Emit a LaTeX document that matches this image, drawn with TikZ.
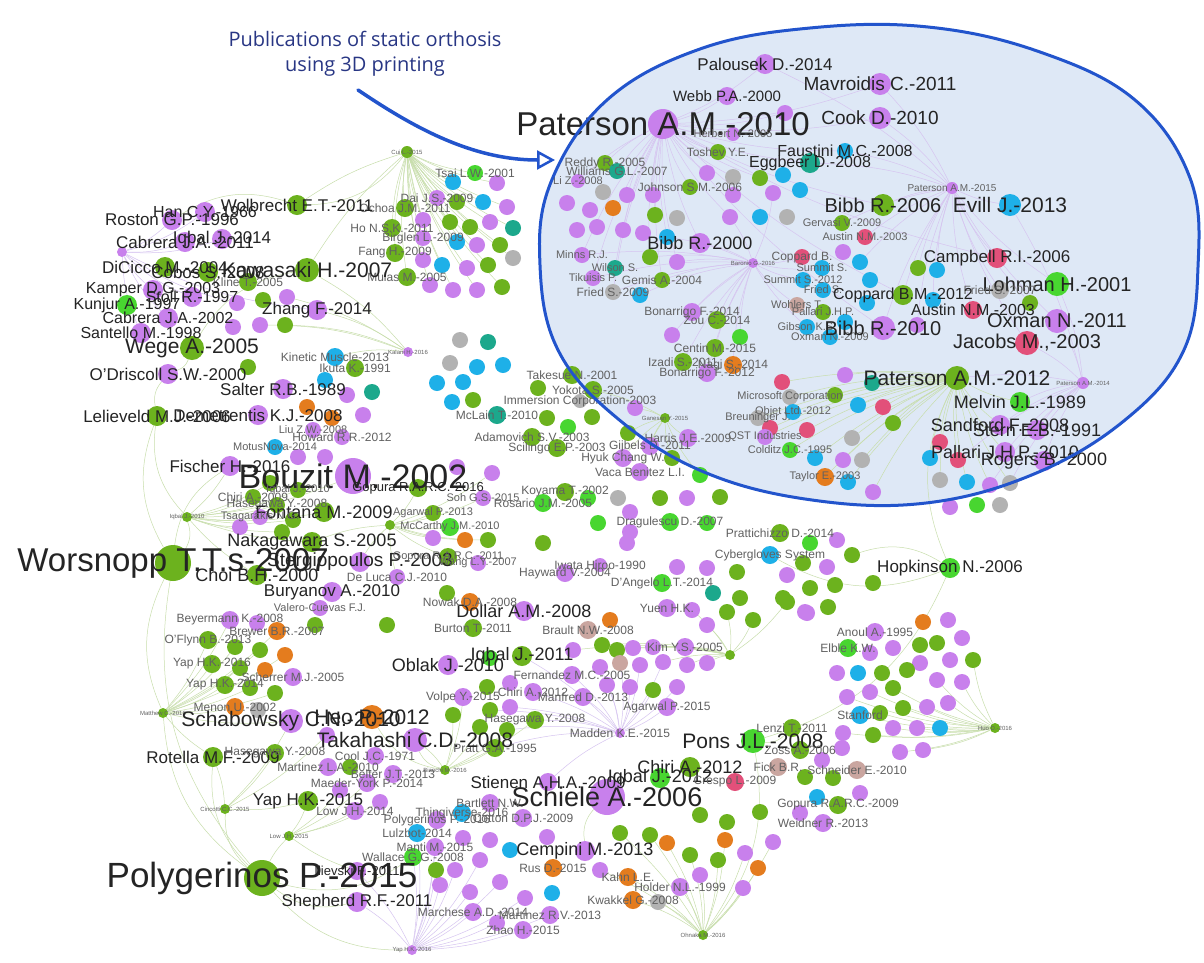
\documentclass[tikz,border=0pt]{standalone}
\usepackage{fontspec}
\usepackage{etoolbox}
\setmainfont{Liberation Sans}
\newfontfamily\annfont{Open Sans}
\usetikzlibrary{arrows.meta}
\pgfdeclarelayer{back}\pgfdeclarelayer{edges}\pgfdeclarelayer{top}
\pgfsetlayers{back,edges,main,top}
\definecolor{pu}{RGB}{200,128,236}
\definecolor{gr}{RGB}{108,178,30}
\definecolor{bg}{RGB}{72,214,48}
\definecolor{te}{RGB}{28,168,140}
\definecolor{bl}{RGB}{30,176,232}
\definecolor{pk}{RGB}{226,80,122}
\definecolor{or}{RGB}{228,124,30}
\definecolor{gy}{RGB}{178,178,178}
\definecolor{br}{RGB}{202,166,160}
\definecolor{edgeg}{RGB}{200,222,172}
\definecolor{edgep}{RGB}{214,196,240}
\definecolor{ellfill}{RGB}{222,232,246}
\definecolor{elldraw}{RGB}{34,84,204}
\definecolor{ann}{RGB}{40,54,132}
\tikzset{
  dot/.style={circle,inner sep=0pt,draw=none},
  lab/.style={inner sep=0pt,anchor=center},
  eg/.style={draw=edgeg,line width=0.5pt},
  ep/.style={draw=edgep,line width=0.5pt},
}
\newcommand\alllabels{}
\newcommand\pubnode[3]{%
  \ifdim #2pt<13pt \def\pubcol{black!62}\else\def\pubcol{black!86}\fi
  \node[lab,text=\pubcol,font=\fontsize{#2}{#2}\selectfont] at (#1) {#3};}
\newcommand\pub[7]{%
  \node[dot,fill=#5,minimum size={2*#4pt}] (#1) at (#2,#3) {};%
  \gappto\alllabels{\pubnode{#1}{#6}{#7}}}
\newcommand\dn[4]{\node[dot,fill=#4,minimum size=16pt] (#1) at (#2,#3) {};}
\newcommand\ellpath{plot[smooth cycle,tension=0.65] coordinates {(540,265) (551,182) (607,100) (700,49) (810,28) (928,27) (1040,52) (1135,100) (1190,178) (1198,267) (1183,352) (1125,420) (1034,474) (926,503) (812,500) (704,472) (617,418) (558,350)}}
\begin{document}
\begin{tikzpicture}[x=1pt,y=-1pt]
\useasboundingbox (0,0) rectangle (1204,962);
\begin{pgfonlayer}{back}
\fill[white] (0,0) rectangle (1204,962);
\fill[ellfill] \ellpath;
\end{pgfonlayer}
% ---------- ellipse upper
\pub{palo}{765}{64}{10}{pu}{17}{Palousek D.-2014}
\pub{mavr}{880}{84}{11}{pu}{19}{Mavroidis C.-2011}
\pub{webb}{727}{96}{9}{pu}{15}{Webb P.A.-2000}
\dn{e1}{785}{113}{pu}
\pub{cook}{880}{118}{11}{pu}{19}{Cook D.-2010}
\pub{pat10}{663}{124}{15}{pu}{33}{Paterson A.M.-2010}
\pub{herb}{733}{134}{7}{pu}{11}{Herbert N.-2005}
\pub{tosh}{718}{152}{8}{gr}{12}{Toshev Y.E.}
\pub{faus}{845}{151}{8}{bl}{16}{Faustini M.C.-2008}
\pub{eggb}{810}{163}{10}{te}{16}{Eggbeer D.-2008}
\pub{redd}{605}{163}{8}{gr}{12}{Reddy R.-2005}
\pub{will}{617}{171}{8}{te}{12}{Williams G.L.-2007}
\pub{liz}{578}{181}{7}{pu}{11}{Li Z.-2008}
\dn{e2}{707}{173}{pu}\dn{e3}{733}{177}{gy}\dn{e4}{760}{178}{gr}\dn{e5}{783}{175}{bl}
\dn{e6}{603}{192}{gy}\dn{e7}{627}{195}{pu}\dn{e8}{653}{195}{pu}
\pub{john}{690}{187}{8}{gr}{12}{Johnson S.M.-2006}
\dn{e9}{733}{195}{pu}\dn{e10}{773}{193}{pu}\dn{e11}{800}{190}{bl}
\dn{e12}{567}{203}{pu}\dn{e13}{590}{210}{pu}\dn{e14}{613}{208}{or}\dn{e15}{655}{215}{gr}\dn{e16}{677}{218}{gy}\dn{e17}{730}{217}{pu}\dn{e18}{760}{217}{bl}\dn{e19}{787}{217}{gy}
\dn{e20}{577}{230}{pu}\dn{e21}{597}{227}{pu}\dn{e22}{623}{230}{pu}\dn{e23}{643}{233}{pu}\dn{e24}{667}{237}{bl}
\pub{bibb00}{700}{243}{10}{pu}{18}{Bibb R.-2000}
\pub{minns}{582}{255}{8}{pu}{11}{Minns R.J.}
\pub{wils}{615}{268}{8}{te}{11}{Wilson S.}
\pub{tiku}{593}{278}{8}{pu}{11}{Tikuisis P.}
\dn{e25}{650}{257}{gr}\dn{e26}{677}{262}{pu}
\pub{gemi}{662}{280}{8}{gr}{12}{Gemis A.-2004}
\pub{frie09}{613}{292}{8}{gy}{12}{Fried S.-2009}
\dn{e27}{640}{295}{bl}
\pub{baron}{753}{263}{5}{pu}{6}{Baronio G.-2016}
\pub{bona14}{692}{312}{9}{pu}{12}{Bonarrigo F.-2014}
\pub{zou}{717}{320}{9}{gr}{12}{Zou C.-2014}
\dn{e28}{672}{335}{pu}\dn{e29}{740}{337}{bg}
\pub{cent}{715}{348}{9}{gr}{12}{Centin M.-2015}
\pub{izad}{683}{362}{9}{gr}{12}{Izadi S.-2011}
\pub{nagi}{733}{365}{9}{or}{12}{Nagi S.-2014}
\pub{bona12}{707}{373}{9}{pu}{12}{Bonarrigo F.-2012}
\pub{copp1}{802}{257}{8}{pk}{12}{Coppard B.}
\pub{summ1}{822}{268}{8}{bl}{11}{Summit S.}
\pub{summ2}{803}{280}{8}{bl}{11}{Summit S.-2012}
\pub{frs}{823}{290}{8}{bl}{11}{Fried S.}
\pub{wohl}{797}{305}{8}{br}{11}{Wohlers T.}
\pub{pall1}{823}{312}{8}{gr}{11}{Pallari J.H.P.}
\pub{gibs}{807}{327}{8}{bl}{11}{Gibson K.S.}
\pub{oxm09}{830}{337}{8}{bl}{11}{Oxman N.-2009}
\pub{bibb06}{883}{205}{11}{gr}{20}{Bibb R.-2006}
\pub{evill}{1010}{205}{11}{bl}{21}{Evill J.-2013}
\pub{pat15}{952}{188}{6}{pu}{10}{Paterson A.M.-2015}
\pub{gerv}{842}{223}{8}{gr}{11}{Gervasi V.-2009}
\pub{aust1}{865}{237}{8}{pk}{11}{Austin N.M.-2003}
\dn{e30}{843}{252}{pu}\dn{e31}{860}{262}{bl}\dn{e32}{870}{280}{bl}\dn{e33}{937}{270}{bl}\dn{e34}{933}{300}{bl}\dn{e35}{867}{303}{bl}\dn{e36}{845}{322}{bl}\dn{e37}{918}{268}{gr}
\pub{camp}{997}{258}{10}{pk}{17}{Campbell R.I.-2006}
\pub{lohm}{1057}{284}{12}{bg}{20}{Lohman H.-2001}
\pub{frie07}{1000}{290}{9}{gy}{12}{Fried S.-2007}
\dn{e38}{1030}{303}{gr}
\pub{copp12}{903}{295}{10}{gr}{16}{Coppard B.M.-2012}
\pub{aust2}{973}{310}{9}{pk}{16}{Austin N.M.-2003}
\pub{oxm11}{1057}{321}{12}{pu}{20}{Oxman N.-2011}
\pub{bibb10}{883}{328}{12}{pu}{20}{Bibb R.-2010}
\dn{e39}{917}{325}{pu}
\pub{jac03}{1027}{343}{12}{pk}{20}{Jacobs M.,-2003}
% ---------- ellipse lower
\pub{pat12}{957}{378}{12}{gr}{21}{Paterson A.M.-2012}
\pub{pat14}{1083}{383}{6}{pu}{6}{Paterson A.M.-2014}
\pub{melv}{1020}{402}{10}{bg}{18}{Melvin J.L.-1989}
\pub{sand}{1000}{425}{10}{pu}{18}{Sandford F.-2008}
\pub{ster}{1037}{430}{10}{pu}{18}{Stern E.B.-1991}
\pub{pall10}{1005}{452}{10}{pu}{18}{Pallari J.H.P.-2010}
\pub{roge}{1044}{461}{10}{pu}{18}{Rogers B.-2000}
\pub{micr}{790}{397}{8}{gy}{11}{Microsoft Corporation}
\dn{e40}{782}{382}{pk}\dn{e41}{845}{375}{pu}\dn{e42}{872}{383}{te}\dn{e43}{835}{395}{gr}\dn{e44}{858}{405}{bl}\dn{e45}{883}{407}{pk}
\pub{objet}{793}{412}{8}{bl}{11}{Objet Ltd.-2012}
\pub{breu}{758}{418}{8}{gy}{11}{Breuninger J.}
\dn{e46}{807}{430}{pk}\dn{e47}{893}{423}{gr}\dn{e48}{770}{428}{pk}
\pub{qst}{765}{437}{8}{pu}{11}{QST Industries}
\dn{e49}{852}{438}{gy}\dn{e50}{940}{442}{pk}
\pub{cold}{790}{450}{8}{bg}{11}{Colditz J.C.-1995}
\dn{e51}{815}{458}{bl}\dn{e52}{843}{460}{pu}\dn{e53}{862}{460}{gy}\dn{e54}{930}{458}{bl}\dn{e55}{958}{460}{pk}
\pub{tayl}{825}{477}{9}{or}{11}{Taylor E.-2003}
\dn{e56}{848}{482}{bl}\dn{e57}{873}{492}{pu}\dn{e58}{940}{480}{gy}\dn{e59}{967}{482}{bl}\dn{e60}{990}{485}{pu}\dn{e61}{1010}{483}{gy}
\dn{e62}{950}{507}{pu}\dn{e63}{977}{505}{bg}\dn{e64}{1000}{505}{gy}
% ---------- top-left cluster
\pub{cui}{407}{152}{6}{gr}{6}{Cui L.-2015}
\pub{tsai}{475}{173}{8}{bg}{12}{Tsai L.W.-2001}
\dn{t1}{453}{182}{bl}\dn{t2}{497}{183}{pu}
\pub{dai}{437}{198}{8}{pu}{12}{Dai J.S.-2009}
\dn{t3}{457}{202}{gr}\dn{t4}{483}{202}{bl}\dn{t5}{507}{207}{pu}
\pub{ocho}{405}{208}{9}{gr}{12}{Ochoa J.M.-2011}
\pub{hons}{392}{228}{9}{gr}{12}{Ho N.S.K.-2011}
\dn{t6}{423}{220}{pu}\dn{t7}{450}{222}{gr}\dn{t8}{470}{227}{gr}\dn{t9}{490}{222}{pu}\dn{t10}{513}{228}{te}
\pub{birg}{423}{238}{8}{pu}{12}{Birglen L.-2009}
\dn{t11}{457}{242}{bl}\dn{t12}{477}{245}{pu}\dn{t13}{500}{245}{gr}
\pub{fang}{395}{253}{9}{gr}{12}{Fang H.-2009}
\dn{t14}{423}{260}{pu}\dn{t15}{442}{265}{bl}\dn{t16}{467}{268}{pu}\dn{t17}{488}{265}{gr}\dn{t18}{513}{258}{gy}
\pub{mula}{407}{277}{9}{gr}{12}{Mulas M.-2005}
\dn{t19}{430}{285}{pu}\dn{t20}{453}{290}{pu}\dn{t21}{477}{290}{pu}\dn{t22}{502}{287}{gr}
% ---------- left
\pub{wolb}{297}{205}{10}{gr}{17}{Wolbrecht E.T.-2011}
\pub{hanc}{205}{212}{10}{pu}{16}{Han C.Y.-1966}
\pub{rost}{172}{220}{10}{pu}{17}{Roston G.P.-1996}
\pub{cab11}{185}{242}{10}{pu}{17}{Cabrera J.A.-2011}
\pub{iq14}{222}{239}{10}{pu}{17}{Iqbal J.-2014}
\pub{bata}{122}{252}{5}{pu}{6}{}
\pub{dici}{165}{267}{10}{gr}{17}{DiCicco M.-2004}
\pub{cobo}{208}{272}{10}{gr}{17}{Cobos S.-2008}
\pub{kawa}{307}{270}{12}{gr}{21}{Kawasaki H.-2007}
\pub{klin}{248}{282}{9}{gr}{12}{Kline T.-2005}
\pub{kamp}{153}{290}{10}{pu}{16}{Kamper D.G.-2003}
\pub{stol}{192}{297}{10}{pu}{16}{Stoll R.-1997}
\dn{l1}{237}{303}{pu}\dn{l2}{263}{300}{gr}\dn{l3}{287}{297}{pu}
\pub{kunj}{127}{305}{10}{bg}{16}{Kunjur A.-1997}
\pub{zhan}{317}{310}{10}{pu}{17}{Zhang F.-2014}
\pub{cab02}{168}{318}{10}{pu}{16}{Cabrera J.A.-2002}
\pub{sant}{141}{333}{10}{pu}{16}{Santello M.-1998}
\dn{l4}{233}{327}{pu}\dn{l5}{260}{325}{pu}\dn{l6}{285}{325}{gr}
\pub{wege}{192}{348}{12}{gr}{21}{Wege A.-2005}
\pub{kine}{335}{357}{9}{bl}{12}{Kinetic Muscle-2013}
\pub{kala}{408}{352}{5}{pu}{6}{Kalani H.-2016}
\dn{l7}{248}{367}{gr}
\pub{ikut}{355}{368}{9}{gr}{12}{Ikuta K.-1991}
\pub{odri}{168}{374}{10}{pu}{17}{O'Driscoll S.W.-2000}
\dn{l8}{325}{380}{bl}
\pub{salt}{283}{389}{10}{pu}{17}{Salter R.B.-1989}
\dn{l9}{372}{392}{te}\dn{l10}{347}{395}{pu}\dn{l11}{307}{407}{or}
\pub{leli}{157}{416}{10}{gr}{17}{Lelieveld M.J.-2006}
\pub{deme}{258}{415}{10}{pu}{17}{Demetrentis K.J.-2008}
\dn{l12}{332}{418}{or}\dn{l13}{363}{415}{pu}
\pub{liuz}{313}{430}{8}{pu}{11}{Liu Z.W.-2008}
\pub{howa}{342}{437}{8}{pu}{12}{Howard R.R.-2012}
\pub{motu}{275}{447}{8}{bl}{11}{MotusNova-2014}
\dn{l14}{298}{457}{pu}\dn{l15}{325}{457}{pu}
\pub{fisc}{230}{466}{10}{pu}{17}{Fischer H.-2016}
\pub{bouz}{353}{476}{18}{pu}{34}{Bouzit M.-2002}
\pub{gopu16}{418}{488}{9}{gr}{13}{Gopura R.A.R.C.-2016}
\dn{l16}{457}{467}{pu}
\pub{iq10s}{298}{490}{8}{gr}{11}{Iqbal J.-2010}
\dn{l17}{270}{483}{gr}
\pub{chir09}{253}{497}{8}{gr}{12}{Chiri A.-2009}
\pub{hase1}{277}{505}{8}{gr}{12}{Hasegawa Y.-2008}
\pub{font}{324}{512}{10}{gr}{18}{Fontana M.-2009}
\dn{l18}{293}{520}{gr}
\pub{iq10h}{187}{517}{5}{gr}{6}{Iqbal J.-2010}
\pub{tsag}{260}{517}{8}{pu}{11}{Tsagarakis N.G.}
\dn{l19}{240}{527}{pu}\dn{l20}{282}{532}{gr}
\pub{naka}{312}{542}{10}{gr}{18}{Nakagawara S.-2005}
\pub{wors}{173}{563}{18}{gr}{33}{Worsnopp T.T.s-2007}
\pub{ster03}{360}{562}{10}{pu}{19}{Stergiopoulos P.-2003}
\pub{choi}{257}{575}{10}{gr}{18}{Choi B.H.-2000}
\pub{agar13}{433}{513}{8}{gr}{11}{Agarwal P.-2013}
\pub{tan16}{390}{525}{5}{gr}{5}{}
\pub{mcca}{450}{527}{9}{bg}{11}{McCarthy J.M.-2010}
\dn{l21}{433}{538}{pu}\dn{l22}{465}{540}{or}\dn{l23}{488}{540}{gr}
\pub{delu}{397}{577}{8}{pu}{12}{De Luca C.J.-2010}
\pub{bury}{332}{592}{10}{pu}{17}{Buryanov A.-2010}
\dn{l24}{447}{593}{gr}
\pub{vale}{320}{608}{8}{pu}{11}{Valero-Cuevas F.J.}
\pub{gopu11}{448}{557}{9}{gr}{11}{Gopura R.A.R.C.-2011}
\pub{wang}{478}{563}{8}{pu}{11}{Wang L.Y.-2007}
\dn{l25}{492}{473}{pu}
\pub{soh}{483}{498}{8}{pu}{11}{Soh G.S.-2015}
% ---------- center
\dn{c1}{460}{340}{gy}\dn{c2}{488}{342}{te}\dn{c3}{450}{363}{gy}\dn{c4}{477}{367}{bl}\dn{c5}{503}{365}{bl}
\pub{take}{572}{375}{9}{gr}{12}{Takesue N.-2001}
\dn{c6}{437}{383}{bl}\dn{c7}{463}{382}{bl}\dn{c8}{538}{388}{gr}
\pub{yoko}{593}{390}{9}{gr}{12}{Yokota S.-2005}
\pub{imme}{580}{401}{7}{gy}{12}{Immersion Corporation-2003}
\dn{c9}{473}{400}{gr}\dn{c10}{452}{402}{bl}\dn{c11}{635}{408}{pu}
\pub{mcla}{497}{415}{9}{te}{12}{McLain T.-2010}
\pub{gane}{665}{418}{5}{gr}{6}{Ganesan Y.-2015}
\dn{c12}{547}{418}{gr}\dn{c13}{592}{417}{gr}\dn{c14}{568}{427}{bg}\dn{c15}{628}{433}{gr}
\pub{adam}{532}{437}{9}{gr}{12}{Adamovich S.V.-2003}
\pub{scil}{557}{448}{9}{gr}{12}{Scilingo E.P.-2003}
\pub{harr}{688}{438}{9}{pu}{12}{Harris J.E.-2009}
\pub{gijb}{650}{446}{9}{pu}{12}{Gijbels D.-2011}
\pub{hyuk}{623}{458}{9}{pu}{12}{Hyuk Chang W.}
\dn{c16}{672}{458}{gr}
\pub{vaca}{640}{472}{9}{pu}{12}{Vaca Benitez L.I.}
\dn{c17}{700}{475}{bg}
\pub{koya}{565}{492}{9}{gr}{12}{Koyama T.-2002}
\pub{rosa}{543}{503}{9}{bg}{12}{Rosario J.M.-2005}
\dn{c18}{588}{498}{bg}\dn{c19}{618}{498}{gy}\dn{c20}{660}{498}{gr}\dn{c21}{687}{498}{pu}\dn{c22}{720}{497}{gr}
\dn{c23}{630}{512}{pu}\dn{c24}{598}{523}{bg}
\pub{drag}{670}{522}{9}{bg}{12}{Dragulescu D.-2007}
\dn{c25}{707}{523}{bg}\dn{c26}{630}{532}{pu}\dn{c27}{543}{543}{gr}\dn{c28}{627}{543}{pu}
% ---------- middle-lower
\pub{hayw}{565}{573}{9}{pu}{12}{Hayward V.-2004}
\pub{iwat}{600}{565}{7}{pu}{12}{Iwata Hiroo-1990}
\dn{m1}{677}{567}{pu}\dn{m2}{707}{568}{pu}\dn{m3}{737}{572}{gr}
\pub{cybe}{770}{555}{9}{bl}{12}{Cybergloves System}
\pub{dang}{662}{583}{9}{bg}{12}{D'Angelo L.T.-2014}
\dn{m4}{713}{593}{te}\dn{m5}{740}{598}{gr}
\pub{doll}{524}{611}{10}{pu}{18}{Dollar A.M.-2008}
\pub{nowa}{470}{602}{9}{or}{12}{Nowak D.A.-2008}
\pub{burt}{473}{628}{9}{gr}{12}{Burton T.-2011}
\pub{brau}{588}{630}{9}{br}{12}{Brault N.W.-2008}
\dn{m6}{610}{620}{or}
\pub{yuen}{667}{608}{9}{pu}{12}{Yuen H.K.}
\dn{m7}{692}{610}{pu}\dn{m8}{707}{625}{pu}\dn{m9}{727}{612}{gr}\dn{m10}{753}{620}{gr}\dn{m11}{807}{613}{pu}\dn{m12}{787}{602}{gr}
\pub{kimy}{685}{647}{9}{pu}{12}{Kim Y.S.-2005}
\pub{rain}{730}{655}{5}{gr}{6}{}
\dn{m13}{573}{650}{pu}\dn{m14}{602}{645}{gr}\dn{m15}{617}{650}{gr}\dn{m16}{633}{648}{pu}\dn{m17}{653}{647}{pu}
\pub{iq11}{522}{656}{10}{gr}{18}{Iqbal J.-2011}
\dn{m18}{490}{658}{bg}
\pub{obla}{448}{665}{10}{pu}{18}{Oblak J.-2010}
\pub{fern}{572}{675}{9}{pu}{12}{Fernandez M.C.-2005}
\dn{m19}{600}{667}{pu}\dn{m20}{620}{663}{br}\dn{m21}{640}{665}{pu}\dn{m22}{663}{662}{pu}\dn{m23}{687}{665}{pu}\dn{m24}{707}{663}{pu}
\pub{chir12s}{533}{692}{9}{pu}{12}{Chiri A.-2012}
\pub{manf}{583}{697}{9}{pu}{12}{Manfred D.-2013}
\dn{m25}{487}{687}{gr}\dn{m26}{510}{683}{pu}\dn{m27}{607}{685}{pu}\dn{m28}{630}{687}{pu}\dn{m29}{653}{690}{gr}\dn{m30}{677}{687}{pu}
\pub{agar15}{667}{707}{9}{pu}{12}{Agarwal P.-2015}
\pub{volp}{463}{697}{9}{pu}{12}{Volpe Y.-2015}
\dn{m31}{490}{710}{gr}\dn{m32}{510}{707}{pu}\dn{m33}{453}{715}{gr}
\pub{hase2}{535}{720}{9}{gr}{12}{Hasegawa Y.-2008}
\dn{m34}{480}{727}{gr}\dn{m35}{507}{730}{gr}
\pub{madd}{620}{733}{5}{pu}{12}{Madden K.E.-2015}
\pub{prat}{495}{748}{9}{gr}{12}{Pratt G.A.-1995}
\pub{bian}{445}{770}{5}{gr}{6}{Bianchi M.-2016}
\pub{pons}{753}{741}{12}{bg}{21}{Pons J.L.-2008}
\pub{chir12}{690}{767}{10}{gr}{18}{Chiri A.-2012}
\pub{iq12}{660}{778}{10}{bg}{18}{Iqbal J.-2012}
\pub{stie}{548}{782}{9}{pu}{17}{Stienen A.H.A.-2009}
\pub{cres}{735}{782}{9}{pk}{12}{Crespo L.-2009}
\pub{schi}{607}{797}{18}{pu}{27}{Schiele A.-2006}
\pub{bart}{490}{803}{9}{pu}{12}{Bartlett N.W.}
\pub{thin}{462}{813}{9}{bl}{12}{Thingiverse-2016}
\pub{cott}{523}{818}{9}{pu}{12}{Cotton D.P.J.-2009}
\dn{m36}{547}{837}{pu}
\pub{cemp}{585}{851}{10}{pu}{18}{Cempini M.-2013}
\pub{rusd}{553}{868}{9}{or}{12}{Rus D.-2015}
\dn{m37}{552}{893}{bl}
\dn{m38}{620}{833}{gr}\dn{m39}{650}{835}{gr}\dn{m40}{667}{843}{or}\dn{m41}{700}{815}{gr}\dn{m42}{727}{822}{gr}\dn{m43}{760}{812}{gr}\dn{m44}{690}{855}{gr}\dn{m45}{718}{860}{gr}\dn{m46}{745}{853}{pu}\dn{m47}{700}{875}{pu}\dn{m48}{725}{840}{or}\dn{m49}{600}{870}{pu}
\pub{kahn}{628}{877}{9}{or}{12}{Kahn L.E.}
\pub{hold}{680}{887}{9}{pu}{12}{Holder N.L.-1999}
\pub{kwak}{633}{900}{9}{or}{12}{Kwakkel G.-2008}
\dn{m50}{658}{902}{gy}
\pub{ohna}{703}{935}{5}{gr}{6}{Ohnaka M.-2016}
\dn{m51}{743}{888}{pu}\dn{m52}{758}{868}{or}\dn{m53}{773}{842}{pu}
% ---------- bottom-left
\pub{marc}{473}{912}{9}{pu}{12}{Marchese A.D.-2014}
\dn{b1}{497}{923}{pu}
\pub{zhao}{523}{930}{9}{pu}{12}{Zhao H.-2015}
\pub{mart13}{550}{915}{9}{pu}{12}{Martinez R.V.-2013}
\pub{yap16}{412}{950}{5}{pu}{6}{Yap H.K.-2016}
\pub{poly16}{437}{820}{9}{pu}{12}{Polygerinos P.-2016}
\pub{lulz}{417}{833}{9}{bl}{12}{Lulzbot-2014}
\pub{mant}{435}{847}{9}{pu}{12}{Manti M.-2015}
\pub{wall}{413}{857}{9}{bg}{12}{Wallace G.G.-2008}
\dn{b2}{455}{870}{pu}\dn{b3}{480}{860}{pu}\dn{b4}{500}{882}{pu}\dn{b5}{470}{892}{pu}\dn{b6}{510}{850}{bl}\dn{b7}{440}{885}{pu}\dn{b8}{463}{838}{pu}\dn{b9}{490}{840}{pu}\dn{b10}{525}{898}{pu}\dn{b11}{436}{870}{gr}
\pub{shep}{357}{902}{10}{pu}{17}{Shepherd R.F.-2011}
\pub{ilie}{357}{871}{9}{pu}{13}{Ilievski F.-2011}
\pub{poly15}{262}{878}{18}{gr}{35}{Polygerinos P.-2015}
% ---------- lower-left
\pub{beye}{230}{620}{9}{pu}{12}{Beyermann K.-2008}
\dn{s1}{257}{623}{pu}
\pub{brew}{277}{631}{9}{or}{12}{Brewer B.R.-2007}
\dn{s2}{315}{625}{gr}\dn{s3}{387}{625}{gr}
\pub{oflyn}{208}{640}{9}{gr}{12}{O'Flynn B.-2013}
\dn{s4}{235}{647}{gr}\dn{s5}{260}{650}{gr}\dn{s6}{285}{655}{or}
\pub{yap16s}{212}{664}{9}{gr}{12}{Yap H.K.-2016}
\dn{s7}{240}{668}{gr}\dn{s8}{265}{670}{or}
\pub{sche}{293}{677}{9}{pu}{12}{Scherrer M.J.-2005}
\pub{yap14}{225}{685}{9}{gr}{12}{Yap H.K.-2014}
\dn{s9}{250}{688}{gr}\dn{s10}{275}{693}{gr}
\pub{menn}{235}{707}{9}{or}{12}{Menon U.-2002}
\dn{s11}{258}{710}{gy}
\pub{matt}{163}{713}{5}{gr}{6}{Matthew C.-2016}
\pub{scab}{291}{721}{12}{pu}{21}{Schabowsky C.N.-2010}
\pub{heop}{372}{717}{12}{or}{21}{Heo P.-2012}
\dn{s12}{327}{735}{pu}
\pub{taka}{415}{740}{12}{pu}{21}{Takahashi C.D.-2008}
\pub{rote}{213}{757}{10}{gr}{17}{Rotella M.F.-2009}
\pub{hase3}{275}{753}{9}{gr}{12}{Hasegawa Y.-2008}
\pub{cool}{375}{756}{9}{pu}{12}{Cool J.C.-1971}
\pub{mart10}{328}{767}{9}{pu}{12}{Martinez L.A.-2010}
\dn{s13}{350}{767}{gr}
\pub{belt}{393}{774}{9}{pu}{12}{Belter J.T.-2013}
\pub{maed}{367}{783}{9}{pu}{12}{Maeder-York P.-2014}
\dn{s14}{340}{790}{pu}
\pub{yap15}{308}{801}{10}{gr}{17}{Yap H.K.-2015}
\dn{s15}{380}{802}{pu}
\pub{lowj14}{355}{811}{9}{pu}{12}{Low J.H.-2014}
\pub{cinc}{225}{809}{5}{gr}{6}{Cincotti C.C.-2015}
\pub{low15}{289}{836}{5}{gr}{6}{Low J.H.-2015}
% ---------- right
\pub{pratt}{780}{533}{9}{gr}{12}{Prattichizzo D.-2014}
\dn{r1}{837}{540}{pu}\dn{r2}{810}{543}{bg}\dn{r3}{852}{555}{gr}\dn{r4}{803}{563}{gr}\dn{r5}{827}{567}{pu}
\pub{hopk}{950}{568}{10}{bg}{17}{Hopkinson N.-2006}
\dn{r6}{787}{575}{pu}\dn{r7}{810}{588}{gr}\dn{r8}{835}{585}{gr}\dn{r9}{873}{583}{gr}\dn{r10}{783}{598}{gr}\dn{r11}{828}{607}{gr}\dn{r12}{805}{612}{pu}
\dn{r13}{923}{622}{or}\dn{r14}{948}{620}{pu}
\pub{anou}{875}{632}{9}{pu}{12}{Anoul A.-1995}
\dn{r15}{962}{638}{pu}\dn{r16}{937}{643}{gr}\dn{r17}{920}{645}{gr}
\pub{elbl}{848}{648}{9}{bg}{12}{Elble K.W.}
\dn{r18}{870}{653}{pu}\dn{r19}{893}{648}{pu}\dn{r20}{920}{663}{pu}\dn{r21}{950}{660}{pu}\dn{r22}{973}{660}{gr}
\dn{r23}{837}{673}{pu}\dn{r24}{858}{673}{bl}\dn{r25}{882}{673}{gr}\dn{r26}{907}{670}{gr}\dn{r27}{937}{680}{pu}\dn{r28}{962}{682}{pu}
\dn{r29}{847}{697}{pu}\dn{r30}{870}{692}{pu}\dn{r31}{893}{688}{gr}\dn{r32}{948}{703}{pu}\dn{r33}{927}{707}{pu}
\pub{stan}{860}{715}{9}{bl}{12}{Stanford}
\dn{r34}{880}{713}{gr}\dn{r35}{903}{708}{gr}
\pub{huo}{995}{728}{5}{gr}{6}{Huo D.-2016}
\dn{r36}{893}{728}{pu}\dn{r37}{917}{728}{pu}\dn{r38}{940}{728}{bl}\dn{r39}{873}{735}{gr}\dn{r40}{843}{733}{pu}\dn{r41}{900}{752}{pu}\dn{r42}{923}{750}{pu}
\pub{lenz}{792}{728}{9}{gr}{12}{Lenzi T.-2011}
\pub{zoss}{800}{750}{9}{gr}{12}{Zoss A.-2006}
\dn{r43}{842}{748}{pu}\dn{r44}{822}{760}{pu}
\pub{schn}{857}{770}{9}{br}{12}{Schneider E.-2010}
\pub{fick}{778}{767}{9}{br}{12}{Fick B.R.}
\dn{r45}{833}{778}{gr}\dn{r46}{805}{777}{gr}\dn{r47}{860}{793}{pu}\dn{r48}{817}{797}{bl}
\pub{gopu09}{838}{805}{9}{gr}{12}{Gopura R.A.R.C.-2009}
\dn{r49}{800}{813}{pu}
\pub{weid}{823}{823}{9}{pu}{12}{Weidner R.-2013}
% ---------- labels on top of all circles
\alllabels
% ---------- edges
\begin{pgfonlayer}{edges}
\foreach \t in {palo,webb,herb,tosh,faus,eggb,redd,will,liz,e2,e3,e4,john,e7,e8,e15,e17,bibb00,e22,e24,e25,gemi,frie09,e26,bibb06,camp,copp12,bibb10,minns,tiku,wils,cook,mavr,e1} \draw[ep] (pat10) to[bend right=8] (\t);
\foreach \t in {bona14,zou,e28,e29,cent,izad,nagi,bona12,copp1,summ1,wohl,gibs,e24,bibb00,e26,e25,gemi,frie09,e27,minns,tiku,e10,e17,summ2} \draw[ep] (baron) to[bend right=8] (\t);
\foreach \t in {bibb06,evill,gerv,aust1,camp,e37,lohm,frie07,e38,copp12,aust2,oxm11,bibb10,jac03,e39,mavr,cook,eggb,faus,e33,e34,e31,palo} \draw[ep] (pat15) to[bend right=8] (\t);
\foreach \t in {micr,e40,e41,e42,e43,e44,e45,objet,breu,e46,e47,e48,qst,e49,e50,cold,e51,e52,e53,e54,e55,tayl,e56,e57,e58,e59,melv,sand,pall10,e61,e60} \draw[eg] (pat12) to[bend right=8] (\t);
\foreach \t in {melv,sand,ster,pall10,roge,jac03,oxm11,lohm,pat12,e55,e60,e61,evill} \draw[ep] (pat14) to[bend right=8] (\t);
\foreach \t in {tsai,t1,t2,dai,t3,t4,t5,ocho,hons,t6,t7,t8,t9,t10,birg,t11,t12,t13,fang,t14,t15,t16,t17,t18,mula,t19,t20,t21,t22,wolb,kawa} \draw[eg] (cui) to[bend right=8] (\t);
\foreach \t in {chir09,hase1,font,l18,tsag,l19,l20,naka,iq10s,l17,choi,fisc,bouz} \draw[eg] (iq10h) to[bend right=8] (\t);
\foreach \t in {agar13,mcca,l21,l22,l23,gopu16,soh,l25,naka,ster03,delu,gopu11} \draw[eg] (tan16) to[bend right=8] (\t);
\foreach \t in {oflyn,s4,yap16s,s7,yap14,s9,s10,menn,beye,brew,scab,rote,s5,s6} \draw[eg] (matt) to[bend right=8] (\t);
\foreach \t in {rote,yap15,hase3,scab,s12} \draw[eg] (cinc) to[bend right=8] (\t);
\foreach \t in {yap15,lowj14,s15,poly15,s14,maed,ilie} \draw[eg] (low15) to[bend right=8] (\t);
\foreach \t in {shep,marc,b1,zhao,mart13,ilie,poly16,mant,lulz,b2,b3,b4,b5,b7,b10,b11,wall} \draw[ep] (yap16) to[bend right=8] (\t);
\foreach \t in {hase2,fern,manf,chir12s,agar15,m27,m28,m29,m30,m19,m20,m21,m22,prat,iq11,stie,m31,m35,m32} \draw[ep] (madd) to[bend right=8] (\t);
\foreach \t in {kwak,m50,kahn,hold,m51,m52,m40,m39,m38,m44,m45,m46,m47,m53,m48,m49} \draw[eg] (ohna) to[bend right=8] (\t);
\foreach \t in {stan,r34,r35,r36,r37,r38,r39,r40,r41,r42,r32,r33,r29,r30,r31,r28,r27,r22} \draw[eg] (huo) to[bend left=8] (\t);
\foreach \t in {kimy,m13,m14,m15,m16,m17,m7,m8,m9,m10,m12,m22,m23,m24} \draw[eg] (rain) to[bend right=8] (\t);
\foreach \t in {prat,m34,m35,hase2,volp,m33,taka} \draw[eg] (bian) to[bend right=8] (\t);
\foreach \t in {harr,gijb,hyuk,c15,c16,vaca,c17,c11,yoko} \draw[eg] (gane) to[bend right=8] (\t);
\foreach \t in {rost,hanc,cab11,iq14,kamp,stol,cab02,sant,l1,zhan} \draw[ep] (bata) to[bend right=10] (\t);
\foreach \t in {zhan,kawa,l3,l5,l6,kine} \draw[eg] (kala) to[bend right=10] (\t);
\foreach \a/\b in {wors/poly15,leli/wors,odri/leli,kawa/wege,rote/poly15,matt/poly15,cinc/poly15,poly15/shep,poly15/wall,wors/matt,wors/iq10h,leli/iq10h,odri/wege,fisc/wors,wolb/rost,wolb/cui,hopk/r3,pons/lenz,pons/hopk,schi/cemp,ohna/pons,taka/bian,heop/bian,poly15/yap16,cybe/hopk,pat12/hopk} \draw[eg] (\a) to[bend right=25] (\b);
\end{pgfonlayer}
% ---------- annotation
\begin{pgfonlayer}{top}
\draw[elldraw,line width=3pt] \ellpath;
\node[text=ann,align=center,font=\annfont\fontsize{20}{25}\selectfont] (note) at (365,54) {Publications of static orthosis\\using 3D printing};
\coordinate (arrS) at (358,90);
\coordinate (arrE) at (555,160);
\draw[elldraw,line width=3.5pt,line cap=round,-{Triangle[open,length=18pt,width=19pt,line width=2.5pt]}] (arrS) .. controls (410,125) and (470,160) .. (arrE);
\end{pgfonlayer}
\end{tikzpicture}
\end{document}
